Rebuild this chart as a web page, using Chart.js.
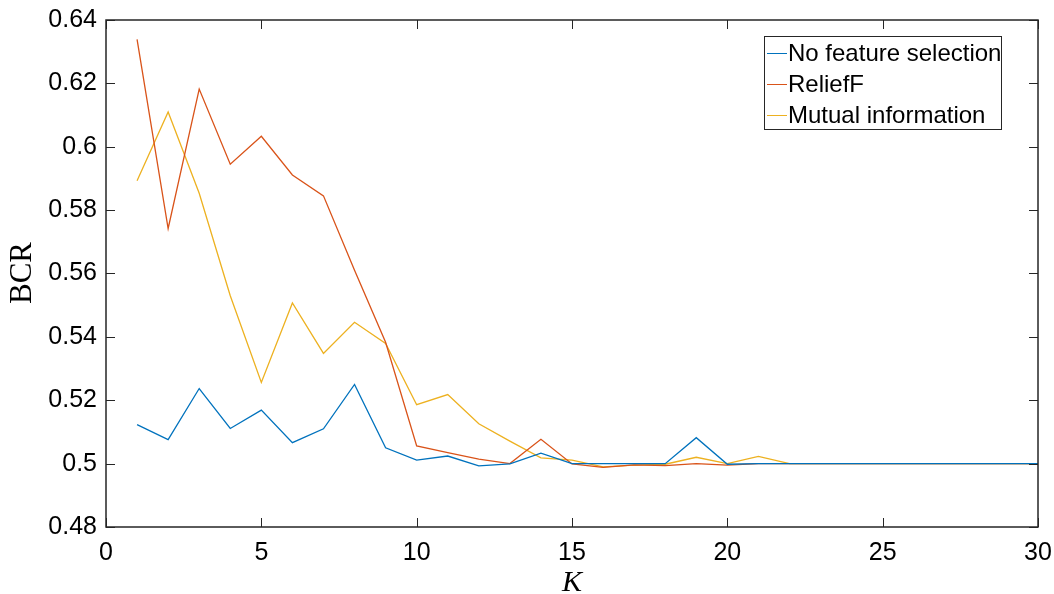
<!DOCTYPE html>
<html>
<head>
<meta charset="utf-8">
<script src="https://cdn.jsdelivr.net/npm/chart.js@4"></script>
<style>
  body { margin: 0; background: #fff; }
  #wrap { width: 1054px; height: 594px; }
</style>
</head>
<body>
<div id="wrap"><canvas id="myChart"></canvas></div>
<script>
const valoresK = [1,2,3,4,5,6,7,8,9,10,11,12,13,14,15,16,17,18,19,20,21,22,23,24,25,26,27,28,29,30];

const sinSeleccion = [0.5123, 0.5076, 0.5237, 0.5111, 0.5169, 0.5066, 0.5110, 0.5250, 0.5050, 0.5011,
	0.5024, 0.4993, 0.4999, 0.5033, 0.5000, 0.5000, 0.5000, 0.5000, 0.5082, 0.4998,
	0.5000, 0.5000, 0.5000, 0.5000, 0.5000, 0.5000, 0.5000, 0.5000, 0.5000, 0.5000];

const reliefF = [0.6339, 0.5742, 0.6182, 0.5945, 0.6033, 0.5911, 0.5845, 0.5610, 0.5383, 0.5056,
	0.5035, 0.5014, 0.5000, 0.5077, 0.4999, 0.4988, 0.4996, 0.4994, 0.5000, 0.4995,
	0.5000, 0.5000, 0.5000, 0.5000, 0.5000, 0.5000, 0.5000, 0.5000, 0.5000, 0.5000];

const infoMutua = [0.5893, 0.6110, 0.5853, 0.5530, 0.5256, 0.5507, 0.5348, 0.5446, 0.5379, 0.5186,
	0.5218, 0.5126, 0.5071, 0.5018, 0.5011, 0.4990, 0.4995, 0.4998, 0.5020, 0.5000,
	0.5023, 0.5000, 0.5000, 0.5000, 0.5000, 0.5000, 0.5000, 0.5000, 0.5000, 0.5000];

const nombresSeries = ['No feature selection', 'ReliefF', 'Mutual information'];
const coloresSeries = ['#0072BD', '#D95319', '#EDB120'];

const ticksX = [0, 5, 10, 15, 20, 25, 30];
const ticksY = [0.48, 0.5, 0.52, 0.54, 0.56, 0.58, 0.6, 0.62, 0.64];

function puntos(valores) {
	return valoresK.map((k, i) => ({ x: k, y: valores[i] }));
}

const fuenteEjes = '"Liberation Sans", Arial, sans-serif';
const fuenteSerif = '"Liberation Serif", "Times New Roman", serif';

// caja y marcas hacia dentro, estilo MATLAB, mas los titulos BCR y K
const cajaPlugin = {
	id: 'caja',
	afterDatasetsDraw(chart) {
		const ctx = chart.ctx;
		const a = chart.chartArea;
		const sx = chart.scales.x, sy = chart.scales.y;
		ctx.save();
		ctx.strokeStyle = '#262626';
		ctx.lineWidth = 1;
		ctx.beginPath();
		ticksX.forEach(v => {
			const px = Math.round(sx.getPixelForValue(v)) + 0.5;
			ctx.moveTo(px, a.bottom); ctx.lineTo(px, a.bottom - 9);
			ctx.moveTo(px, a.top); ctx.lineTo(px, a.top + 9);
		});
		ticksY.forEach(v => {
			const py = Math.round(sy.getPixelForValue(v)) + 0.5;
			ctx.moveTo(a.left, py); ctx.lineTo(a.left + 9, py);
			ctx.moveTo(a.right, py); ctx.lineTo(a.right - 9, py);
		});
		ctx.stroke();
		ctx.lineWidth = 1.5;
		ctx.strokeRect(a.left, a.top, a.right - a.left, a.bottom - a.top);

		ctx.fillStyle = '#000';
		ctx.textAlign = 'center';
		ctx.textBaseline = 'middle';
		ctx.font = 'italic 30px ' + fuenteSerif;
		ctx.fillText('K', (a.left + a.right) / 2, 583);

		ctx.translate(23, 273);
		ctx.rotate(-Math.PI / 2);
		ctx.font = '31px ' + fuenteSerif;
		ctx.fillText('BCR', 0, 0);
		ctx.restore();
	}
};

// leyenda dentro del area, arriba a la derecha
const leyendaPlugin = {
	id: 'leyenda',
	afterDraw(chart) {
		const ctx = chart.ctx;
		const x0 = 764, y0 = 36, w = 237, h = 93;
		ctx.save();
		ctx.fillStyle = '#fff';
		ctx.fillRect(x0, y0, w, h);
		ctx.strokeStyle = '#262626';
		ctx.lineWidth = 1;
		ctx.strokeRect(x0 + 0.5, y0 + 0.5, w, h);
		ctx.font = '24px ' + fuenteEjes;
		ctx.textBaseline = 'middle';
		chart.data.datasets.forEach((ds, i) => {
			const yy = y0 + 17 + i * 31;
			ctx.strokeStyle = ds.borderColor;
			ctx.lineWidth = 1;
			ctx.beginPath();
			ctx.moveTo(x0 + 3, yy + 0.5);
			ctx.lineTo(x0 + 23, yy + 0.5);
			ctx.stroke();
			ctx.fillStyle = '#000';
			ctx.fillText(ds.label, x0 + 24, yy + 1);
		});
		ctx.restore();
	}
};

let canva = document.getElementById('myChart').getContext('2d');

const myChart = new Chart(canva, {
	type: 'line',
	data: {
		datasets: [
			{ label: nombresSeries[0], data: puntos(sinSeleccion), borderColor: coloresSeries[0] },
			{ label: nombresSeries[1], data: puntos(reliefF), borderColor: coloresSeries[1] },
			{ label: nombresSeries[2], data: puntos(infoMutua), borderColor: coloresSeries[2] }
		]
	},
	options: {
		responsive: true,
		maintainAspectRatio: false,
		animation: false,
		layout: { padding: { top: 20, right: 16, left: 0, bottom: 0 } },
		elements: {
			point: { radius: 0 },
			line: { borderWidth: 1.3, tension: 0 }
		},
		plugins: {
			legend: { display: false },
			tooltip: { enabled: false }
		},
		scales: {
			x: {
				type: 'linear',
				min: 0,
				max: 30,
				afterBuildTicks(scale) { scale.ticks = ticksX.map(v => ({ value: v })); },
				afterFit(scale) {
					scale.height = 67;
					scale.paddingLeft = 0;
					scale.paddingRight = 0;
				},
				grid: { display: false, drawTicks: false },
				border: { display: false },
				ticks: {
					color: '#000',
					padding: 11,
					maxRotation: 0,
					font: { family: fuenteEjes, size: 25 }
				}
			},
			y: {
				min: 0.48,
				max: 0.64,
				afterBuildTicks(scale) { scale.ticks = ticksY.map(v => ({ value: v })); },
				afterFit(scale) {
					scale.width = 106;
					scale.paddingTop = 0;
					scale.paddingBottom = 0;
				},
				grid: { display: false, drawTicks: false },
				border: { display: false },
				ticks: {
					color: '#000',
					padding: 9,
					font: { family: fuenteEjes, size: 25 },
					callback: v => String(Math.round(v * 100) / 100)
				}
			}
		}
	},
	plugins: [cajaPlugin, leyendaPlugin]
});
</script>
</body>
</html>
